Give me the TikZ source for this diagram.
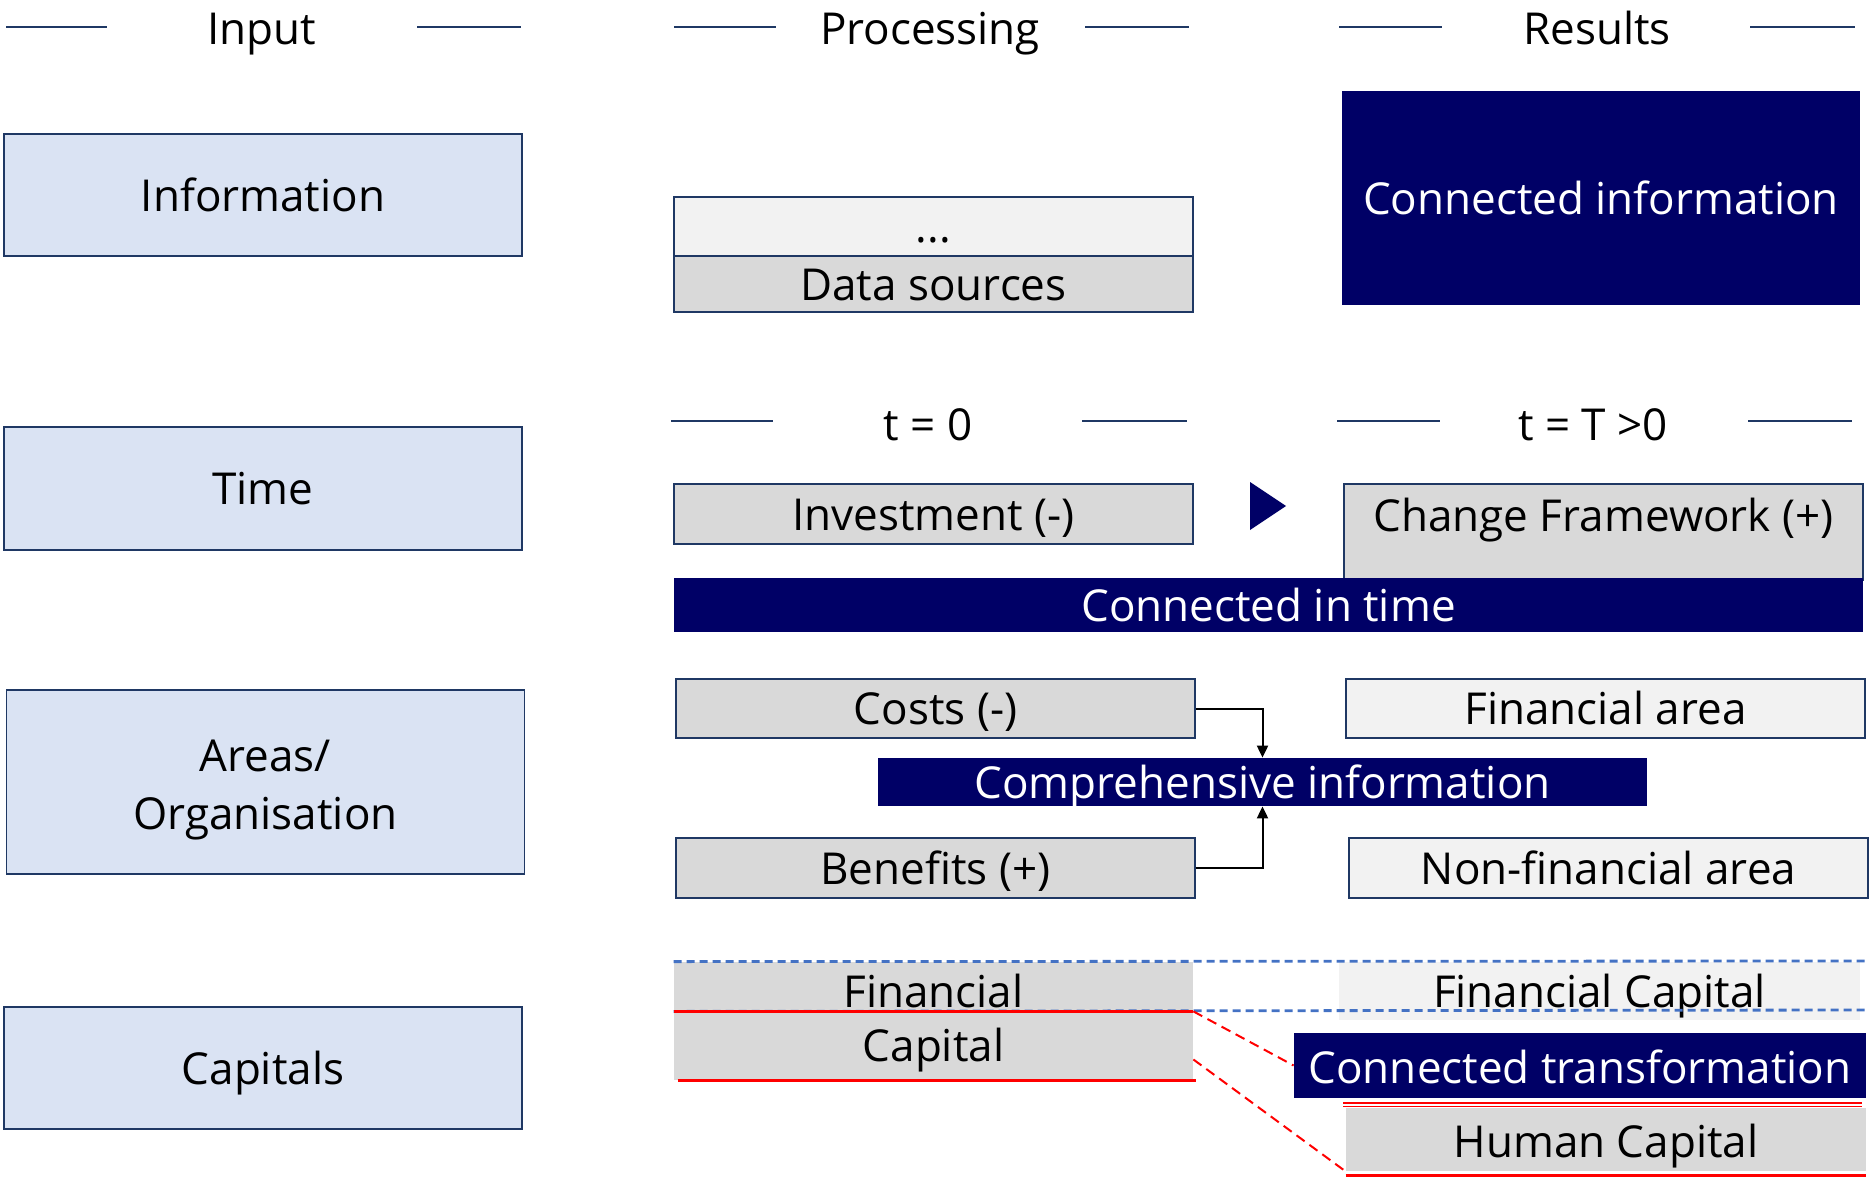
\documentclass[tikz,border=0pt]{standalone}
\usepackage{fontspec}
\setmainfont{Open Sans}
\usetikzlibrary{arrows.meta}

\definecolor{navy}{RGB}{0,0,102}
\definecolor{lightblue}{RGB}{218,227,243}
\definecolor{edge}{RGB}{31,56,100}
\definecolor{grey}{RGB}{217,217,217}
\definecolor{pale}{RGB}{242,242,242}
\definecolor{dashblue}{RGB}{68,114,196}

\tikzset{
  txt/.style={text height=16pt, text depth=0pt},
  inbox/.style={draw=edge, line width=0.8pt, fill=lightblue, minimum width=259pt,
    minimum height=61pt, inner sep=0pt, align=center},
  greybox/.style={draw=edge, line width=0.6pt, fill=grey, minimum width=259.5pt,
    inner sep=0pt, txt},
  palebox/.style={greybox, fill=pale},
  flatbox/.style={fill=grey, minimum width=259.5pt, inner sep=0pt, txt},
  darkbox/.style={fill=navy, text=white, inner sep=0pt, txt},
  headrule/.style={draw=edge, line width=0.8pt},
  redline/.style={draw=red, line width=1.1pt},
  reddash/.style={draw=red, line width=1pt, dash pattern=on 5pt off 3pt},
  bluedash/.style={draw=dashblue, line width=1.4pt, dash pattern=on 4pt off 2.5pt},
}

\begin{document}
\begin{tikzpicture}[x=0.5pt, y=-0.5pt, font=\fontsize{22}{26}\selectfont,
  >={Triangle[length=6pt,width=5.5pt]}]

  \useasboundingbox (0,0) rectangle (1870,1178);

  % column heads
  \node[anchor=base, inner sep=0pt] (input) at (262,44) {Input};
  \node[anchor=base, inner sep=0pt] (processing) at (930,44) {Processing};
  \node[anchor=base, inner sep=0pt] (results) at (1597,44) {Results};
  \foreach \a/\b in {6/107, 417/521, 674/776, 1085/1189, 1339/1442, 1750/1855}
    \draw[headrule] (\a,27) -- (\b,27);

  % input
  \node[inbox, txt] (info) at (263,195) {Information};
  \node[inbox, txt, minimum height=61.5pt] (time) at (263,488.5) {Time};
  \node[inbox, minimum height=92pt, font=\fontsize{22}{29}\selectfont] (areas) at (265.5,782)
    {\rule{0pt}{24pt}Areas/\\Organisation};
  \node[inbox, txt] (caps) at (263,1068) {Capitals};

  % information row
  \node[palebox, minimum height=29.5pt] (dots) at (933.5,226.5) {...};
  \node[greybox, minimum height=28pt] (data) at (933.5,284) {Data sources};
  \node[darkbox, minimum width=259pt, minimum height=107pt] (conninfo) at (1601,198)
    {Connected information};

  % time row
  \node[txt, inner sep=0pt] (tnull) at (928,424) {t = 0};
  \node[txt, inner sep=0pt] (tend) at (1593,424) {t = T >0};
  \foreach \a/\b in {671/773, 1082/1187, 1337/1440, 1748/1852}
    \draw[headrule] (\a,421) -- (\b,421);
  \node[greybox, minimum height=30pt] (invest) at (933.5,514) {Investment (-)};
  \node[greybox, minimum height=48pt, text depth=17pt] (change) at (1603.5,532)
    {Change Framework (+)};
  \fill[navy] (1250,482) -- (1286,506) -- (1250,530) -- cycle;
  \node[darkbox, minimum width=594.5pt, minimum height=27pt] (conntime) at (1268.5,605)
    {Connected in time};

  % areas row
  \node[greybox, minimum height=29.5pt] (costs) at (935.5,708.5) {Costs (-)};
  \node[palebox, minimum height=29.5pt] (finarea) at (1605.5,708.5) {Financial area};
  \node[darkbox, minimum width=384.5pt, minimum height=24pt] (compr) at (1262.5,782)
    {Comprehensive information};
  \node[greybox, minimum height=30pt] (benefits) at (935.5,868) {Benefits (+)};
  \node[palebox, minimum height=30pt] (nonfin) at (1608.5,868) {Non-financial area};
  \draw[->, line width=1pt] (costs.east) -| (compr.north);
  \draw[->, line width=1pt] (benefits.east) -| (compr.south);

  % capitals row
  \node[flatbox, minimum height=24.5pt, text height=21pt] (financial) at (933.5,986.5) {Financial};
  \node[flatbox, minimum height=34.5pt] (capital) at (933.5,1045.5) {Capital};
  \node[flatbox, fill=pale, minimum width=260.5pt, minimum height=29pt] (fincap) at (1599.5,991)
    {Financial Capital};
  \node[darkbox, minimum width=286pt, minimum height=32.5pt, text height=18pt] (conntrans)
    at (1580,1065.5) {Connected transformation};
  \node[flatbox, minimum width=260pt, minimum height=31.5pt, text height=18pt] (humcap)
    at (1606,1139.5) {Human Capital};

  \draw[bluedash] (financial.north west) -- (1866,961);
  \draw[bluedash] (financial.south west) -- (1866,1010);
  \draw[redline] (financial.south west) -- (financial.south east);
  \draw[redline] ([xshift=2pt]capital.south west) -- ([xshift=1.5pt]capital.south east);
  \draw[draw=red, line width=0.7pt, double=white, double distance=1pt] (1343,1104.5) -- (1862,1104.5);
  \draw[redline] ([yshift=-2pt]humcap.south west) -- ([yshift=-2pt]humcap.south east);
  \draw[reddash] (financial.south east) -- (conntrans.west);
  \draw[reddash] ([yshift=-7pt]capital.east) -- (humcap.south west);

\end{tikzpicture}
\end{document}
